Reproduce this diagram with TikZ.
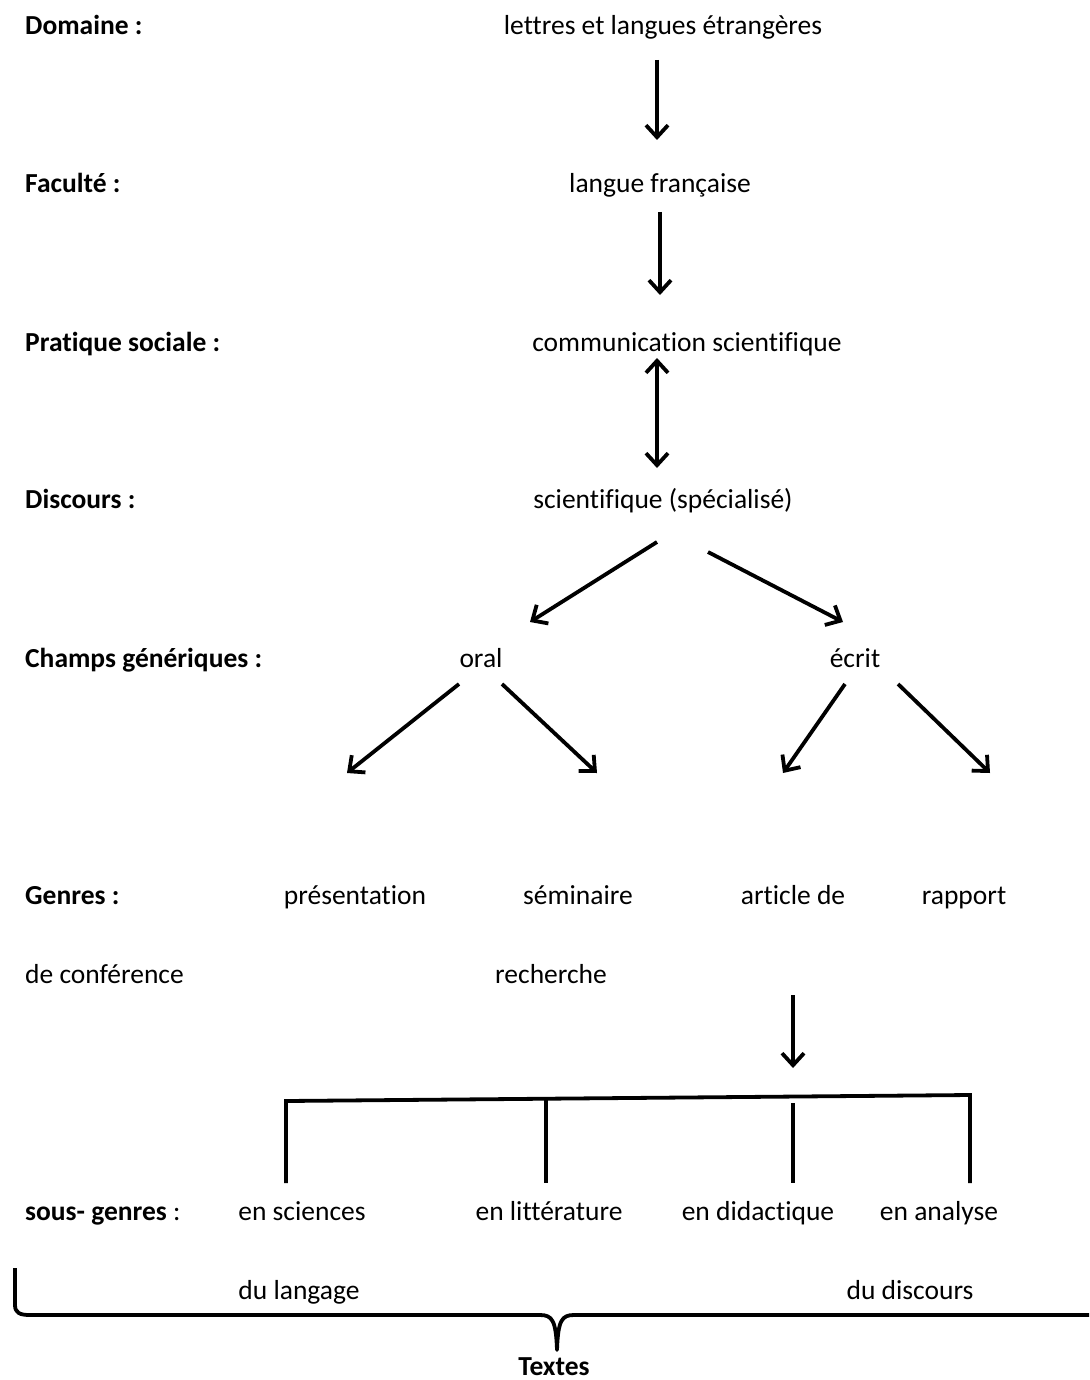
\documentclass[tikz,border=0pt]{standalone}
\usepackage{fontspec}
\setmainfont[Ligatures={NoCommon}]{Carlito}
\usetikzlibrary{arrows.meta}
\begin{document}
\begin{tikzpicture}[x=1pt,y=-1pt,
  lbl/.style={anchor=base west,font=\fontsize{27.5}{30}\selectfont\bfseries,inner sep=0},
  txt/.style={anchor=base,font=\fontsize{27.5}{30}\selectfont,inner sep=0},
  tip/.style={Straight Barb[length=12pt,width=22pt,line width=3.8pt]},
  arr/.style={line width=3.8pt,-{Straight Barb[length=12pt,width=22pt,line width=3.8pt]}},
  darr/.style={line width=3.8pt,{Straight Barb[length=12pt,width=22pt,line width=3.8pt]}-{Straight Barb[length=12pt,width=22pt,line width=3.8pt]}},
  brk/.style={line width=3.8pt}]
\useasboundingbox (0,0) rectangle (1089,1380);
% labels
\node[lbl] (lDom) at (25,35) {Domaine :};
\node[lbl] (lFac) at (25,193) {Faculté :};
\node[lbl] (lPra) at (25,351) {Pratique sociale :};
\node[lbl] (lDis) at (25,508) {Discours :};
\node[lbl] (lCha) at (25,667) {Champs génériques :};
\node[lbl] (lGen) at (25,904) {Genres :};
\node[txt,anchor=base west] (conf) at (25,983) {de conférence};
\node[anchor=base west,inner sep=0,font=\fontsize{27.5}{30}\selectfont] (lSous) at (25,1220) {\textbf{sous- genres} :};
% main chain
\node[txt] (dom) at (663,35) {lettres et langues étrangères};
\node[txt] (fac) at (660,193) {langue française};
\node[txt] (pra) at (687,351) {communication scientifique};
\node[txt] (dis) at (663,508) {scientifique (spécialisé)};
\node[txt] (oral) at (481,667) {oral};
\node[txt] (ecrit) at (855,667) {écrit};
\node[txt] (pres) at (355,904) {présentation};
\node[txt] (sem) at (578,904) {séminaire};
\node[txt] (art) at (793,904) {article de};
\node[txt] (rap) at (964,904) {rapport};
\node[txt] (rech) at (551,983) {recherche};
\node[txt] (sci) at (302,1220) {en sciences};
\node[txt] (lit) at (549,1220) {en littérature};
\node[txt] (did) at (758,1220) {en didactique};
\node[txt] (ana) at (939,1220) {en analyse};
\node[txt] (lang) at (299,1299) {du langage};
\node[txt] (disc) at (910,1299) {du discours};
\node[txt,font=\fontsize{27.5}{30}\selectfont\bfseries] (textes) at (554,1375) {Textes};
% coordinates
\coordinate (a1s) at (657,60); \coordinate (a1e) at (657,140);
\coordinate (a2s) at (660,212); \coordinate (a2e) at (660,295);
\coordinate (a3s) at (657,358); \coordinate (a3e) at (657,468);
\coordinate (d1s) at (657,542); \coordinate (d1e) at (530,622);
\coordinate (d2s) at (708,552); \coordinate (d2e) at (843,622);
\coordinate (o1s) at (459,684); \coordinate (o1e) at (347,773);
\coordinate (o2s) at (502,684); \coordinate (o2e) at (597,773);
\coordinate (e1s) at (845,684); \coordinate (e1e) at (783,773);
\coordinate (e2s) at (898,684); \coordinate (e2e) at (990,773);
\coordinate (g1s) at (793,995); \coordinate (g1e) at (793,1068);
\draw[arr] (a1s) -- (a1e);
\draw[arr] (a2s) -- (a2e);
\draw[darr] (a3s) -- (a3e);
\draw[arr] (d1s) -- (d1e);
\draw[arr] (d2s) -- (d2e);
\draw[arr] (o1s) -- (o1e);
\draw[arr] (o2s) -- (o2e);
\draw[arr] (e1s) -- (e1e);
\draw[arr] (e2s) -- (e2e);
\draw[arr] (g1s) -- (g1e);
% bracket
\coordinate (bl) at (286,1101); \coordinate (br) at (970,1095);
\draw[brk,line join=miter] (286,1183) -- (bl) -- (br) -- (970,1183);
\draw[brk] (546,1099) -- (546,1183);
\draw[brk] (793,1103) -- (793,1183);
% brace
\draw[brk,line join=round] (15,1268) -- (15,1305) .. controls (15,1313) and (20,1315) .. (30,1315)
  -- (540,1315) .. controls (552,1315) and (556,1320) .. (557,1350)
  .. controls (558,1320) and (562,1315) .. (574,1315) -- (1089,1315);
\end{tikzpicture}
\end{document}
